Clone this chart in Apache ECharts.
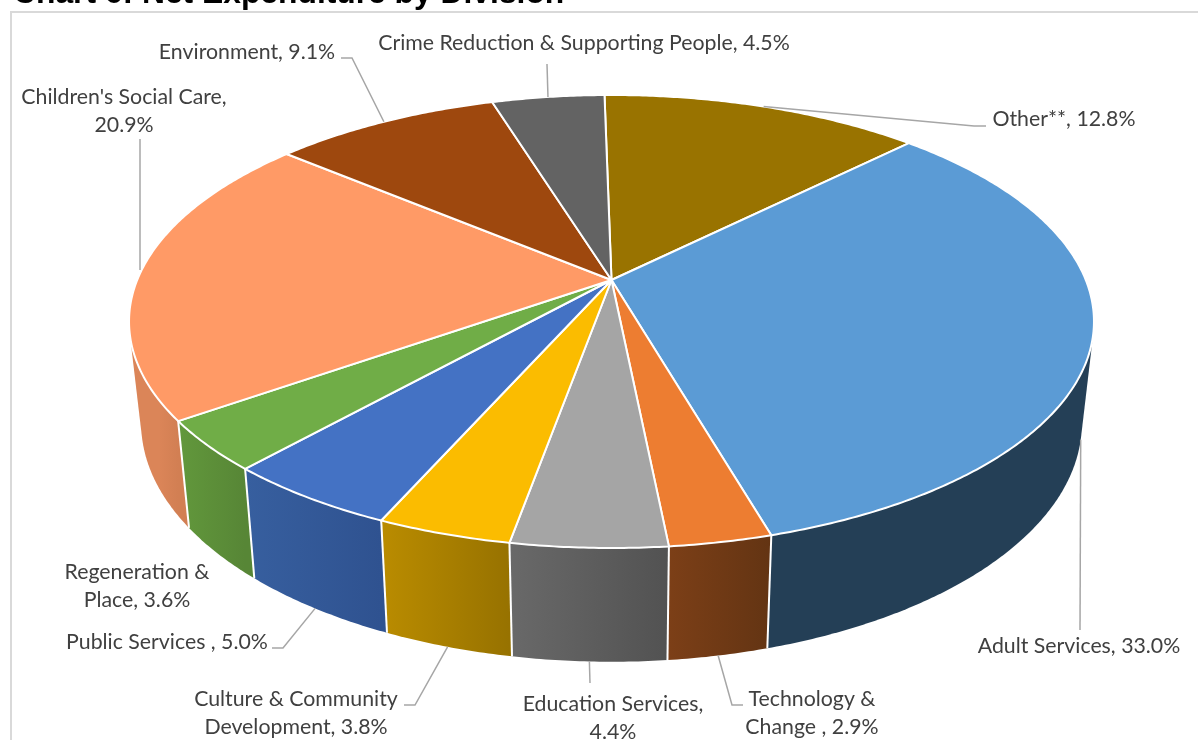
<!DOCTYPE html>
<html>
<head>
<meta charset="utf-8">
<style>html,body{margin:0;padding:0;background:#fff}#chart{width:1198px;height:740px}</style>
<script src="https://cdn.jsdelivr.net/npm/echarts@6/dist/echarts.min.js"></script>
</head>
<body>
<div id="chart"></div>
<script>
// Net expenditure shares, clockwise from the top of the pie
const divisions = ['Other**', 'Adult Services', 'Technology & Change', 'Education Services',
  'Culture & Community Development', 'Public Services', 'Regeneration & Place',
  "Children's Social Care", 'Environment', 'Crime Reduction & Supporting People'];
const shares = [12.8, 33.0, 2.9, 4.4, 3.8, 5.0, 3.6, 20.9, 9.1, 4.5];
const labelLines = [
  ['Other**, 12.8%'],
  ['Adult Services, 33.0%'],
  ['Technology &', 'Change , 2.9%'],
  ['Education Services,', '4.4%'],
  ['Culture & Community', 'Development, 3.8%'],
  ['Public Services , 5.0%'],
  ['Regeneration &', 'Place, 3.6%'],
  ["Children's Social Care,", '20.9%'],
  ['Environment, 9.1%'],
  ['Crime Reduction & Supporting People, 4.5%']
];

// Slice styling
const topColors = ['#997300', '#5B9BD5', '#ED7D31', '#A5A5A5', '#FBBC00', '#4472C4', '#70AD47', '#FF9A66', '#9E480E', '#636363'];
const wallColorsLeft = ['#7A5C00', '#243F56', '#7C3F17', '#696969', '#BA8C00', '#375F9F', '#62983C', '#DB8558', '#7E390B', '#4F4F4F'];
const wallColorsRight = ['#7A5C00', '#243F56', '#633413', '#525252', '#977200', '#2F5290', '#578636', '#D27F53', '#7E390B', '#4F4F4F'];

// Label centre (x), first line centre (y); leader elbows and which rim the leader starts from
const labelAnchors = [[1064, 119], [1079, 646], [812, 699], [613, 704], [296, 699], [167, 642], [137, 572], [124, 97], [247, 52], [584, 43]];
const leaderElbows = [
  [[974, 126], [986, 126]], [[1080, 630]], [[732, 705], [743, 705]], [[590, 683]],
  [[415, 705], [404, 705]], [[283, 648], [272, 648]], [], [[140, 139], [140, 270]],
  [[352, 58], [341, 58]], [[547, 64]]
];
const leaderRims = ['top', 'bottom', 'bottom', 'bottom', 'bottom', 'bottom', null, null, 'top', 'top'];

// Perspective camera for the two rims of the disc; walls only exist on the near arc
const startAngle = -1;
const nearArc = [80, 280];
const view = {
  cx: 611.5, k: 0.1832,
  top: { cy: 280, ax: 474.3, ay: 218.9 },
  bottom: { cy: 379.2, ax: 462.4, ay: 230.8 }
};

function rimPoint(rim, deg) {
  const r = deg * Math.PI / 180;
  const x = Math.sin(r), y = -Math.cos(r);
  const d = 1 - view.k * y;
  return [view.cx + rim.ax * x / d, rim.cy + rim.ay * y / d];
}

// Monotone-chain hull: gives the outline of a wall including its silhouette edge
function convexHull(points) {
  const pts = points.slice().sort((a, b) => a[0] - b[0] || a[1] - b[1]);
  const cross = (o, a, b) => (a[0] - o[0]) * (b[1] - o[1]) - (a[1] - o[1]) * (b[0] - o[0]);
  const half = list => {
    const out = [];
    list.forEach(p => {
      while (out.length > 1 && cross(out[out.length - 2], out[out.length - 1], p) <= 0) out.pop();
      out.push(p);
    });
    out.pop();
    return out;
  };
  return half(pts).concat(half(pts.slice().reverse()));
}

// Cumulative share -> angle
const boundaries = [0];
shares.forEach((s, i) => boundaries.push(boundaries[i] + s));
const total = boundaries[boundaries.length - 1];
const angleOf = v => echarts.number.linearMap(v, [0, total], [startAngle, startAngle + 360]);

function sliceSpan(api) {
  const i = api.value(1);
  return { i, a0: angleOf(boundaries[i]), a1: angleOf(boundaries[i + 1]) };
}

function renderWall(params, api) {
  const { i, a0, a1 } = sliceSpan(api);
  const from = Math.max(a0, nearArc[0]), to = Math.min(a1, nearArc[1]);
  if (from >= to) return { type: 'group', children: [] };
  const x0 = rimPoint(view.top, from)[0], x1 = rimPoint(view.top, to)[0];
  const fill = {
    type: 'linear', global: true, x: Math.min(x0, x1), y: 0, x2: Math.max(x0, x1), y2: 0,
    colorStops: [{ offset: 0, color: wallColorsLeft[i] }, { offset: 1, color: wallColorsRight[i] }]
  };
  const rimSamples = [];
  const steps = Math.ceil((to - from) * 2);
  for (let s = 0; s <= steps; s++) {
    const p = from + (to - from) * s / steps;
    rimSamples.push(rimPoint(view.top, p), rimPoint(view.bottom, p));
  }
  const children = [{
    type: 'polygon',
    shape: { points: convexHull(rimSamples) },
    style: { fill }
  }];
  if (a1 <= nearArc[1]) {
    children.push({
      type: 'polyline',
      shape: { points: [rimPoint(view.top, a1), rimPoint(view.bottom, a1)] },
      style: { fill: null, stroke: '#fff', lineWidth: 2 },
      z2: 5
    });
  }
  return { type: 'group', children };
}

function renderTop(params, api) {
  const { i, a0, a1 } = sliceSpan(api);
  const points = [[view.cx, view.top.cy]];
  const steps = Math.ceil((a1 - a0) * 2);
  for (let s = 0; s <= steps; s++) points.push(rimPoint(view.top, a0 + (a1 - a0) * s / steps));
  return {
    type: 'polygon',
    shape: { points },
    style: { fill: topColors[i], stroke: '#fff', lineWidth: 2, lineJoin: 'round' }
  };
}

function renderLabel(params, api) {
  const { i, a0, a1 } = sliceSpan(api);
  const children = [];
  const rim = leaderRims[i] ? view[leaderRims[i]] : null;
  const points = (rim ? [rimPoint(rim, (a0 + a1) / 2)] : []).concat(leaderElbows[i]);
  if (points.length > 1) {
    children.push({
      type: 'polyline',
      shape: { points },
      style: { fill: null, stroke: '#A6A6A6', lineWidth: 1.5 }
    });
  }
  labelLines[i].forEach((line, n) => {
    children.push({
      type: 'text',
      style: {
        text: line, x: labelAnchors[i][0], y: labelAnchors[i][1] + n * 28,
        align: 'center', verticalAlign: 'middle',
        fill: '#404040', font: '21.3px Lato, "Open Sans", sans-serif'
      }
    });
  });
  return { type: 'group', children };
}

const rows = shares.map((s, i) => [s, i]);
const chart = echarts.init(document.getElementById('chart'), null, { renderer: 'canvas' });
chart.setOption({
  animation: false,
  backgroundColor: '#fff',
  title: {
    text: 'Chart 6: Net Expenditure by Division',
    left: 13, top: -22, padding: 0,
    textStyle: { fontFamily: '"Liberation Sans", Arial, sans-serif', fontWeight: 'bold', fontSize: 31.8, color: '#000' }
  },
  graphic: [{
    type: 'polyline',
    shape: { points: [[11, 740], [11, 12], [1198, 12]] },
    style: { fill: null, stroke: '#D9D9D9', lineWidth: 2 }
  }],
  tooltip: { show: false },
  series: [
    { type: 'custom', coordinateSystem: 'none', silent: true, z: 2, renderItem: renderWall, data: rows },
    { type: 'custom', coordinateSystem: 'none', silent: true, z: 3, renderItem: renderTop, data: rows },
    { type: 'custom', coordinateSystem: 'none', silent: true, z: 4, renderItem: renderLabel, data: rows }
  ]
});
</script>
</body>
</html>
